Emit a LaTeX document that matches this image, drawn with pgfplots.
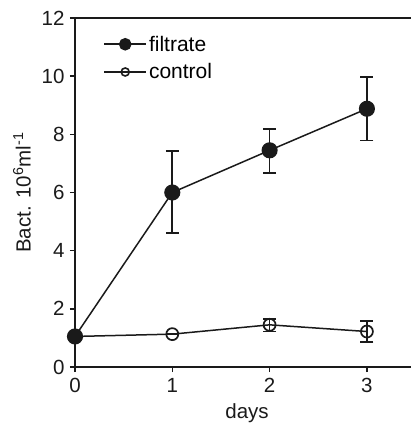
\documentclass[border=0pt]{standalone}
\usepackage{pgfplots}
\pgfplotsset{compat=1.18}
\usepackage{fontspec}
\setmainfont{Liberation Sans}
\usetikzlibrary{calc}
\definecolor{ink}{HTML}{1A1A1A}
\begin{document}
\begin{tikzpicture}
\begin{axis}[
  name=ax,
  scale only axis,
  width=336pt, height=349pt,
  xmin=0, xmax=3.453, ymin=0, ymax=12,
  axis lines=left,
  axis line style={-, line width=2.1pt, color=ink},
  xtick={0,1,2,3}, ytick={0,2,4,6,8,10,12},
  tick style={line width=1.4pt, color=ink},
  tick align=outside,
  major tick length=5pt,
  /pgf/number format/assume math mode=true,
  tick label style={font=\fontsize{20.5}{24}\selectfont, color=ink},
  xticklabel style={yshift=-3pt},
  yticklabel style={xshift=-2pt},
  xlabel={days},
  ylabel={Bact. 10\textsuperscript{6}ml\textsuperscript{-1}},
  label style={font=\fontsize{20.5}{24}\selectfont, color=ink},
  xlabel style={at={(axis description cs:0.512,-0.132)}, anchor=center},
  ylabel style={at={(axis description cs:-0.158,0.5)}, anchor=center},
  legend style={draw=none, fill=none, at={(axis description cs:0.084,0.955)}, anchor=north west,
    font=\fontsize{21}{24}\selectfont, row sep=7pt, inner sep=0pt,
    /tikz/every even column/.append style={column sep=4pt}},
  legend cell align=left,
  legend image code/.code={\draw[mark repeat=2,mark phase=2] plot coordinates {(0pt,0pt)(21pt,0pt)(42pt,0pt)};},
  clip=false,
]
\draw[line width=2.1pt, color=ink] (rel axis cs:0,1) -- (rel axis cs:1,1);
\addlegendimage{color=ink, line width=1.6pt, mark=*, mark size=5.5pt, mark options={fill=ink, draw=ink}}
\addlegendentry{filtrate}
\addlegendimage{color=ink, line width=1.6pt, mark=o, mark size=4pt, mark options={fill=white, draw=ink, line width=1.6pt}}
\addlegendentry{control}
\addplot[forget plot, color=ink, line width=1.5pt, mark=*, mark size=7.3pt,
  mark options={fill=ink, draw=ink},
  error bars/.cd, y dir=both, y explicit,
  error mark options={rotate=90, mark size=6.5pt, line width=1.7pt, color=ink},
  error bar style={line width=1.7pt, color=ink}]
  coordinates {
  (0,1.05) +- (0,0)
  (1,6.0) += (0,1.43) -= (0,1.40)
  (2,7.45) += (0,0.74) -= (0,0.77)
  (3,8.88) += (0,1.10) -= (0,1.09)
  };
\addplot[forget plot, color=ink, line width=1.5pt, mark=o, mark size=6pt,
  mark options={fill=white, draw=ink, line width=1.7pt},
  error bars/.cd, y dir=both, y explicit,
  error mark options={rotate=90, mark size=6.5pt, line width=1.7pt, color=ink},
  error bar style={line width=1.7pt, color=ink}]
  coordinates {
  (0,1.05) +- (0,0)
  (1,1.13) +- (0,0)
  (2,1.45) += (0,0.21) -= (0,0.23)
  (3,1.22) += (0,0.36) -= (0,0.36)
  };
\addplot[color=ink, only marks, mark=*, mark size=7.3pt, mark options={fill=ink}, forget plot]
  coordinates {(0,1.05)};
\end{axis}
\pgfresetboundingbox
\path ($(ax.south west)+(-75pt,-59pt)$) rectangle ($(ax.north east)+(0pt,18pt)$);
\end{tikzpicture}
\end{document}
